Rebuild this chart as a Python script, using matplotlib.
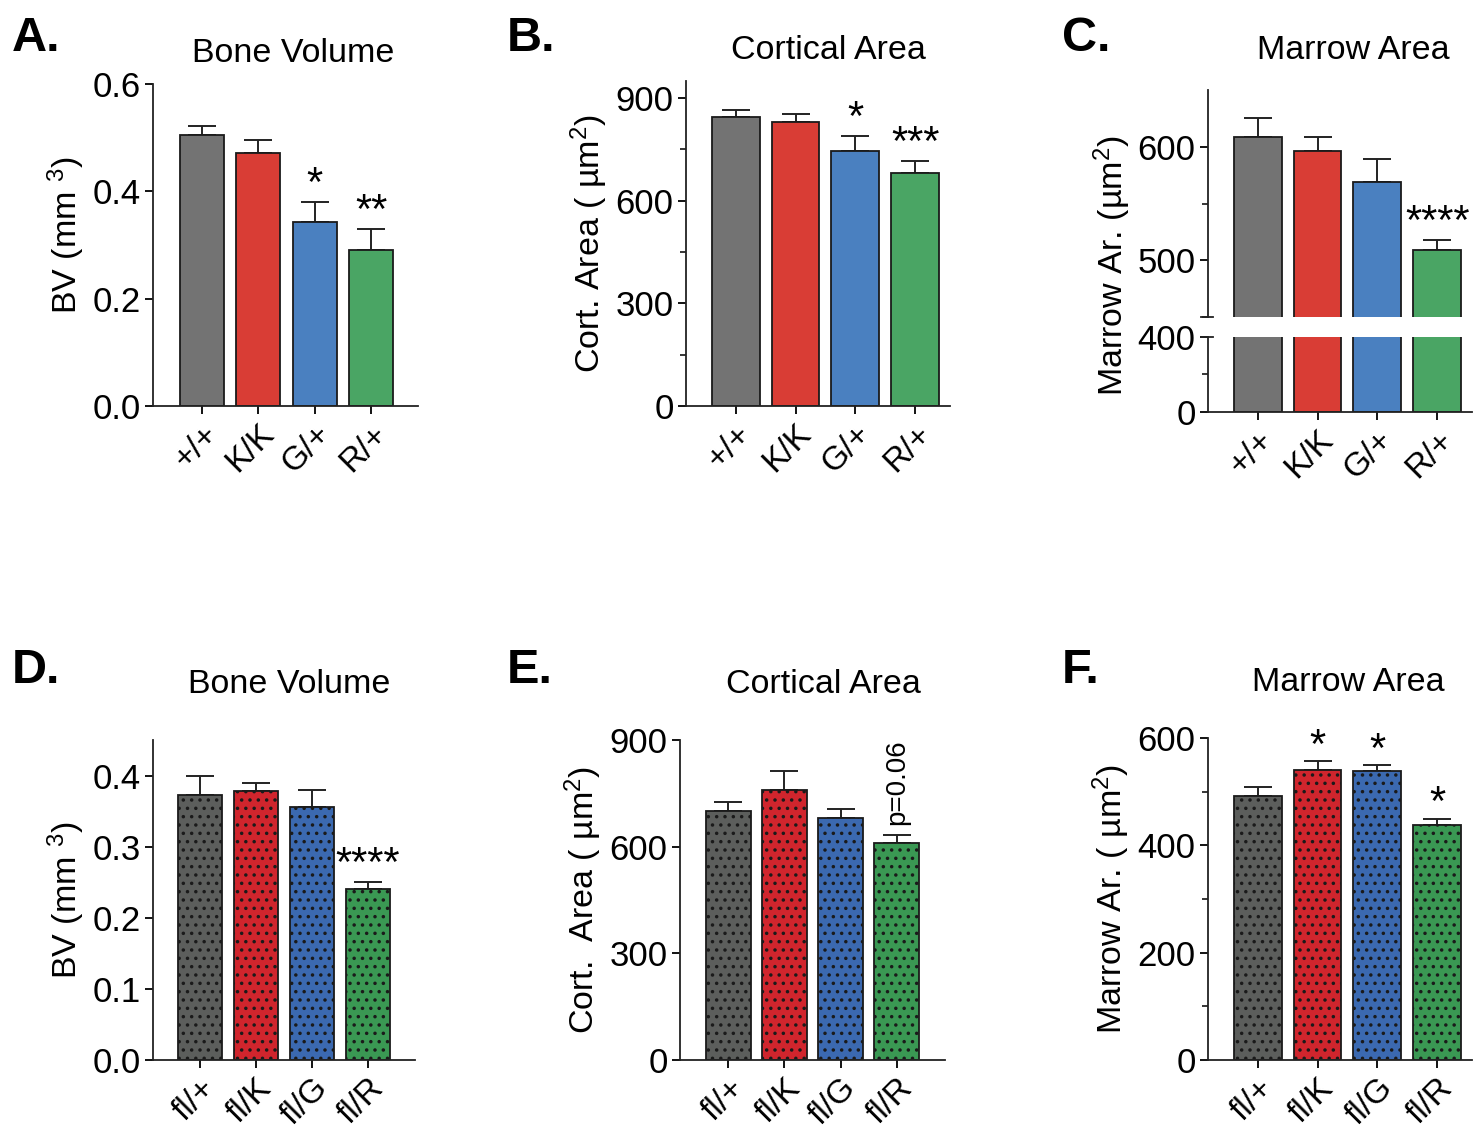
import numpy as np
import matplotlib.pyplot as plt

plt.rcParams['font.family'] = ['Liberation Sans', 'DejaVu Sans']
plt.rcParams['mathtext.fontset'] = 'custom'
plt.rcParams['mathtext.rm'] = 'Liberation Sans'
plt.rcParams['mathtext.it'] = 'Liberation Sans'
plt.rcParams['hatch.linewidth'] = 1.3
plt.rcParams['hatch.color'] = 'black'

# data (top row: germline alleles, bottom row: floxed)
top_labels = ['+/+', 'K/K', 'G/+', 'R/+']
bot_labels = ['fl/+', 'fl/K', 'fl/G', 'fl/R']

bv_top = [0.505, 0.471, 0.343, 0.290]
bv_top_err = [0.017, 0.025, 0.037, 0.040]
ca_top = [845, 830, 745, 681]
ca_top_err = [20, 23, 44, 35]
ma_top = [609, 596, 569, 509]
ma_top_err = [16, 13, 20, 9]

bv_bot = [0.373, 0.378, 0.356, 0.240]
bv_bot_err = [0.026, 0.011, 0.024, 0.010]
ca_bot = [700, 759, 681, 610]
ca_bot_err = [26, 54, 25, 23]
ma_bot = [491, 540, 538, 437]
ma_bot_err = [17, 17, 11, 13]

sig_bv_top = ['', '', '*', '**']
sig_ca_top = ['', '', '*', '***']
sig_ma_top = ['', '', '', '****']
sig_bv_bot = ['', '', '', '****']
sig_ma_bot = ['', '*', '*', '*']

cols_top = ['#737373', '#d93d35', '#4a80c0', '#4aa564']
cols_bot = ['#5c5e5c', '#d0252d', '#3b69b0', '#3a9853']

W, H = 1474, 1131
fig = plt.figure(figsize=(W / 100, H / 100), dpi=100)

TICK = 25
XTICK = 24
YLAB = 24.5
TITLE = 24.5


def make_ax(l, r, t, b):
    return fig.add_axes([l / W, 1 - b / H, (r - l) / W, (b - t) / H])


def style(ax, labels, xlim):
    for s in ['top', 'right']:
        ax.spines[s].set_visible(False)
    for s in ['left', 'bottom']:
        ax.spines[s].set_linewidth(1.3)
        ax.spines[s].set_color('#222222')
    ax.tick_params(axis='both', which='major', length=6, width=1.3, labelsize=TICK,
                   direction='out', pad=3)
    ax.tick_params(axis='y', which='minor', length=4, width=1.1)
    ax.set_xticks(range(len(labels)))
    ax.set_xticklabels(labels, rotation=45, ha='right', rotation_mode='anchor', fontsize=XTICK)
    ax.set_xlim(*xlim)


def bars(ax, vals, errs, cols, hatch=None, width=0.8):
    x = np.arange(len(vals))
    ax.bar(x, vals, width=width, color=cols, edgecolor='#1a1a1a', linewidth=1.3,
           hatch=hatch, zorder=2)
    ax.errorbar(x, vals, yerr=[np.zeros(len(vals)), errs], fmt='none', ecolor='#222222',
                elinewidth=1.4, capsize=10, capthick=1.4, zorder=1)


def stars(ax, vals, errs, sig, off=-2):
    for i, s in enumerate(sig):
        if s:
            ax.annotate(s, (i, vals[i] + errs[i]), xytext=(0, off), textcoords='offset points',
                        ha='center', va='bottom', fontsize=30)


# A
ax = make_ax(153, 418, 84, 406)
bars(ax, bv_top, bv_top_err, cols_top, width=0.78)
style(ax, top_labels, (-0.87, 3.83))
ax.set_ylim(0, 0.6)
ax.set_yticks([0, 0.2, 0.4, 0.6])
ax.set_yticklabels(['0.0', '0.2', '0.4', '0.6'])
ax.set_ylabel('BV (mm $^{3}$)', fontsize=YLAB, labelpad=4, y=0.53)
stars(ax, bv_top, bv_top_err, sig_bv_top)
ax.set_title('Bone Volume', fontsize=TITLE, pad=16, x=0.53)

# B
ax = make_ax(686, 950, 81, 406)
bars(ax, ca_top, ca_top_err, cols_top)
style(ax, top_labels, (-0.83, 3.58))
ax.set_ylim(0, 950)
ax.set_yticks([0, 300, 600, 900])
ax.set_yticks([150, 450, 750], minor=True)
ax.set_ylabel('Cort. Area ( µm$^{2}$)', fontsize=YLAB, labelpad=4)
stars(ax, ca_top, ca_top_err, sig_ca_top)
ax.set_title('Cortical Area', fontsize=TITLE, pad=16, x=0.54)

# C (broken axis)
ax_hi = make_ax(1208, 1472, 90, 317)
ax_lo = make_ax(1208, 1472, 337, 412)
for a in (ax_hi, ax_lo):
    bars(a, ma_top, ma_top_err, cols_top)
    style(a, top_labels, (-0.83, 3.58))
ax_hi.set_ylim(450, 650)
ax_hi.set_yticks([500, 600])
ax_hi.set_yticks([450, 550], minor=True)
ax_hi.spines['bottom'].set_visible(False)
ax_hi.tick_params(axis='x', which='both', bottom=False, labelbottom=False)
ax_lo.set_ylim(0, 400)
ax_lo.set_yticks([0, 400])
ax_lo.set_yticks([200], minor=True)
stars(ax_hi, ma_top, ma_top_err, sig_ma_top)
ax_hi.set_title('Marrow Area', fontsize=TITLE, pad=22, x=0.55)
ax_hi.plot([-0.025, 0.02], [0, 0], transform=ax_hi.transAxes, color='#222222', lw=1.3, clip_on=False)
ax_lo.plot([-0.025, 0.02], [1, 1], transform=ax_lo.transAxes, color='#222222', lw=1.3, clip_on=False)
fig.text(1112 / W, 1 - 266 / H, 'Marrow Ar. (µm$^{2}$)', rotation=90, fontsize=YLAB,
         ha='center', va='center')

# D
ax = make_ax(153, 415, 740, 1060)
bars(ax, bv_bot, bv_bot_err, cols_bot, hatch='..')
style(ax, bot_labels, (-0.84, 3.84))
ax.set_ylim(0, 0.45)
ax.set_yticks([0, 0.1, 0.2, 0.3, 0.4])
ax.set_yticklabels(['0.0', '0.1', '0.2', '0.3', '0.4'])
ax.set_ylabel('BV (mm $^{3}$)', fontsize=YLAB, labelpad=4)
stars(ax, bv_bot, bv_bot_err, sig_bv_bot)
ax.set_title('Bone Volume', fontsize=TITLE, pad=34, x=0.52)

# E
ax = make_ax(680, 945, 740, 1060)
bars(ax, ca_bot, ca_bot_err, cols_bot, hatch='..')
style(ax, bot_labels, (-0.86, 3.86))
ax.set_ylim(0, 900)
ax.set_yticks([0, 300, 600, 900])
ax.set_ylabel('Cort.  Area ( µm$^{2}$)', fontsize=YLAB, labelpad=4)
ax.annotate('p=0.06', (3, ca_bot[3] + ca_bot_err[3]), xytext=(0, 7), textcoords='offset points',
            ha='center', va='bottom', rotation=90, fontsize=20)
ax.set_title('Cortical Area', fontsize=TITLE, pad=34, x=0.54)

# F
ax = make_ax(1208, 1472, 738, 1060)
bars(ax, ma_bot, ma_bot_err, cols_bot, hatch='..')
style(ax, bot_labels, (-0.83, 3.58))
ax.set_ylim(0, 600)
ax.set_yticks([0, 200, 400, 600])
ax.set_yticks([100, 300, 500], minor=True)
ax.set_ylabel('Marrow Ar. ( µm$^{2}$)', fontsize=YLAB, labelpad=4)
stars(ax, ma_bot, ma_bot_err, sig_ma_bot, off=-4)
ax.set_title('Marrow Area', fontsize=TITLE, pad=34, x=0.53)

# panel letters
for letter, x, y in [('A.', 12, 16), ('B.', 507, 16), ('C.', 1062, 16),
                     ('D.', 12, 648), ('E.', 507, 648), ('F.', 1062, 648)]:
    fig.text(x / W, 1 - y / H, letter, fontsize=35, fontweight='bold', ha='left', va='top')

fig.savefig('out.png', dpi=100)
